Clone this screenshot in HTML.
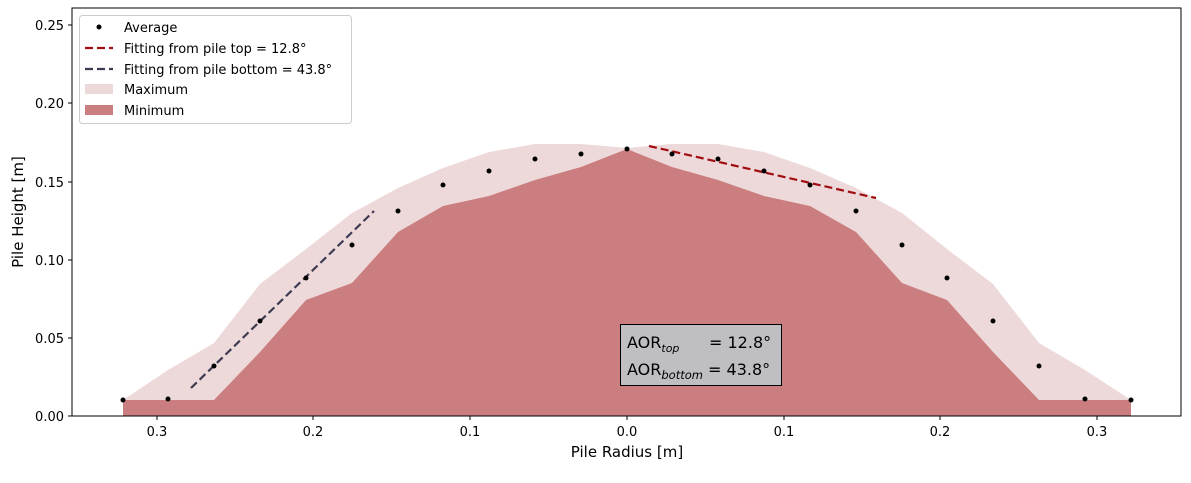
<!DOCTYPE html>
<html><head><meta charset="utf-8"><style>
body{margin:0;background:#fff;}
svg{display:block;font-family:"DejaVu Sans","Liberation Sans",sans-serif;}
</style></head><body>
<svg width="1191" height="483" viewBox="0 0 1191 483" xmlns="http://www.w3.org/2000/svg">
<rect width="1191" height="483" fill="#fff"/>
<polygon fill="#eed9da" points="123,416 123,400 168,370 214,343 260,284 306,249 352,213 398,188 443,168 489,152 535,144 581,144 627,148 672,144 718,144 764,152 810,168 856,188 902,213 947,249 993,284 1039,343 1085,370 1131,400 1131,416"/>
<polygon fill="#ca7e7f" points="123,416 123,400 168,400 214,400 260,352 306,300 352,283 398,232 443,206 489,196 535,180 581,167 627,149 672,167 718,180 764,196 810,206 856,232 902,283 947,300 993,352 1039,400 1085,400 1131,400 1131,416"/>
<line x1="649" y1="146" x2="876" y2="198" stroke="#a00d10" stroke-width="2.2" stroke-dasharray="8,4"/>
<line x1="191" y1="388" x2="374" y2="211" stroke="#3e3a52" stroke-width="2.2" stroke-dasharray="8,4"/>
<g fill="#000">
<circle cx="123" cy="400" r="2.5"/><circle cx="168" cy="399" r="2.5"/><circle cx="214" cy="366" r="2.5"/><circle cx="260" cy="321" r="2.5"/><circle cx="306" cy="278" r="2.5"/><circle cx="352" cy="245" r="2.5"/><circle cx="398" cy="211" r="2.5"/><circle cx="443" cy="185" r="2.5"/><circle cx="489" cy="171" r="2.5"/><circle cx="535" cy="159" r="2.5"/><circle cx="581" cy="154" r="2.5"/><circle cx="627" cy="149" r="2.5"/>
<circle cx="672" cy="154" r="2.5"/><circle cx="718" cy="159" r="2.5"/><circle cx="764" cy="171" r="2.5"/><circle cx="810" cy="185" r="2.5"/><circle cx="856" cy="211" r="2.5"/><circle cx="902" cy="245" r="2.5"/><circle cx="947" cy="278" r="2.5"/><circle cx="993" cy="321" r="2.5"/><circle cx="1039" cy="366" r="2.5"/><circle cx="1085" cy="399" r="2.5"/><circle cx="1131" cy="400" r="2.5"/>
</g>
<rect x="72" y="8" width="1109" height="408" fill="none" stroke="#000" stroke-width="1"/>
<g stroke="#000">
<line x1="157" y1="416" x2="157" y2="420"/><line x1="313" y1="416" x2="313" y2="420"/><line x1="470" y1="416" x2="470" y2="420"/><line x1="627" y1="416" x2="627" y2="420"/><line x1="784" y1="416" x2="784" y2="420"/><line x1="940" y1="416" x2="940" y2="420"/><line x1="1097" y1="416" x2="1097" y2="420"/>
<line x1="68" y1="416" x2="72" y2="416"/><line x1="68" y1="338" x2="72" y2="338"/><line x1="68" y1="260" x2="72" y2="260"/><line x1="68" y1="182" x2="72" y2="182"/><line x1="68" y1="103" x2="72" y2="103"/><line x1="68" y1="25" x2="72" y2="25"/>
</g>
<g font-size="13" text-anchor="middle">
<text x="157" y="436">0.3</text><text x="313" y="436">0.2</text><text x="470" y="436">0.1</text><text x="627" y="436">0.0</text><text x="784" y="436">0.1</text><text x="940" y="436">0.2</text><text x="1097" y="436">0.3</text>
</g>
<g font-size="13" text-anchor="end">
<text x="64" y="421">0.00</text><text x="64" y="343">0.05</text><text x="64" y="265">0.10</text><text x="64" y="187">0.15</text><text x="64" y="108">0.20</text><text x="64" y="30">0.25</text>
</g>
<text x="627" y="457" font-size="15" text-anchor="middle">Pile Radius [m]</text>
<text x="23" y="212" font-size="15" text-anchor="middle" transform="rotate(-90 23 212)">Pile Height [m]</text>
<rect x="79.5" y="15.5" width="272" height="108" rx="3" fill="#fff" fill-opacity="0.8" stroke="#ccc"/>
<g font-size="13">
<circle cx="99" cy="27" r="2.5"/><text x="124" y="32">Average</text>
<line x1="85" y1="48" x2="113" y2="48" stroke="#a00d10" stroke-width="2.2" stroke-dasharray="8,4"/><text x="124" y="53">Fitting from pile top = 12.8°</text>
<line x1="85" y1="69" x2="113" y2="69" stroke="#3e3a52" stroke-width="2.2" stroke-dasharray="8,4"/><text x="124" y="74">Fitting from pile bottom = 43.8°</text>
<rect x="85" y="84" width="28" height="10" fill="#eed9da"/><text x="124" y="94">Maximum</text>
<rect x="85" y="105" width="28" height="10" fill="#ca7e7f"/><text x="124" y="115">Minimum</text>
</g>
<rect x="620.5" y="324.5" width="161" height="61" fill="#bfbfc3" stroke="#000"/>
<g font-size="16">
<text x="627" y="348">AOR<tspan font-size="11" font-style="italic" dy="4">top</tspan><tspan dy="-4" x="709">= 12.8°</tspan></text>
<text x="627" y="375">AOR<tspan font-size="11.5" font-style="italic" dy="4">bottom</tspan><tspan dy="-4"> = 43.8°</tspan></text>
</g>
</svg>
</body></html>
